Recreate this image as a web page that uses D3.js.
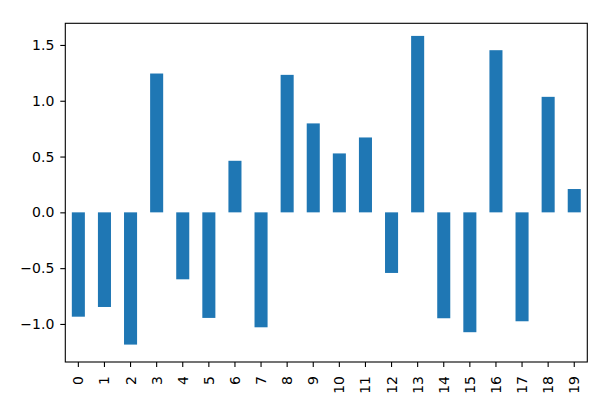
<!DOCTYPE html>
<html>
<head>
<meta charset="utf-8">
<script src="https://cdn.jsdelivr.net/npm/d3@7"></script>
<style>
  html, body { margin: 0; padding: 0; background: #fff; }
  svg { display: block; }
  text { font-family: "DejaVu Sans", sans-serif; fill: #000; }
</style>
</head>
<body>
<svg id="chart" width="612" height="413"></svg>
<script>
const categories = ["0","1","2","3","4","5","6","7","8","9","10","11","12","13","14","15","16","17","18","19"];
const values = [-0.935, -0.848, -1.185, 1.244, -0.600, -0.946, 0.462, -1.030, 1.232, 0.797,
                0.528, 0.671, -0.543, 1.581, -0.949, -1.074, 1.453, -0.976, 1.035, 0.209];
const yTicks = [-1.0, -0.5, 0.0, 0.5, 1.0, 1.5];
const yDomain = [-1.341, 1.694];

const svg = d3.select("#chart");
const m = { left: 65.3, right: 587.3, top: 23.3, bottom: 362 };

const x = d3.scaleBand().domain(categories).range([m.left, m.right]).paddingInner(0.5).paddingOuter(0.25);
const y = d3.scaleLinear().domain(yDomain).range([m.bottom, m.top]);

// bars
svg.append("g").selectAll("rect").data(values).join("rect")
  .attr("x", (d, i) => x(categories[i]))
  .attr("width", x.bandwidth())
  .attr("y", d => y(Math.max(0, d)))
  .attr("height", d => Math.abs(y(d) - y(0)))
  .attr("fill", "#1f77b4");

// y axis
const yAxis = d3.axisLeft(y).tickValues(yTicks).tickSize(5).tickPadding(6)
  .tickFormat(d3.format(".1f"));
const gy = svg.append("g").attr("transform", `translate(${m.left},0)`).call(yAxis);
gy.select(".domain").remove();
gy.selectAll(".tick line").attr("stroke", "#000").attr("stroke-width", 1.1);
gy.selectAll(".tick text").attr("font-size", 14).attr("font-family", "DejaVu Sans")
  .attr("fill", "#1a1a1a").text(d => d3.format(".1f")(d).replace("-", "\u2212"));

// x axis
const xAxis = d3.axisBottom(x).tickSize(5).tickPadding(0);
const gx = svg.append("g").attr("transform", `translate(0,${m.bottom})`).call(xAxis);
gx.select(".domain").remove();
gx.selectAll(".tick line").attr("stroke", "#000").attr("stroke-width", 1.1);
gx.selectAll(".tick text")
  .attr("font-size", 14).attr("font-family", "DejaVu Sans").attr("fill", "#1a1a1a")
  .attr("text-anchor", "end")
  .attr("transform", "translate(0,14) rotate(-90)")
  .attr("x", 0).attr("y", 0).attr("dy", "0.36em");

// frame
svg.append("rect")
  .attr("x", m.left).attr("y", m.top)
  .attr("width", m.right - m.left).attr("height", m.bottom - m.top)
  .attr("fill", "none").attr("stroke", "#000").attr("stroke-width", 1.1);
</script>
</body>
</html>
